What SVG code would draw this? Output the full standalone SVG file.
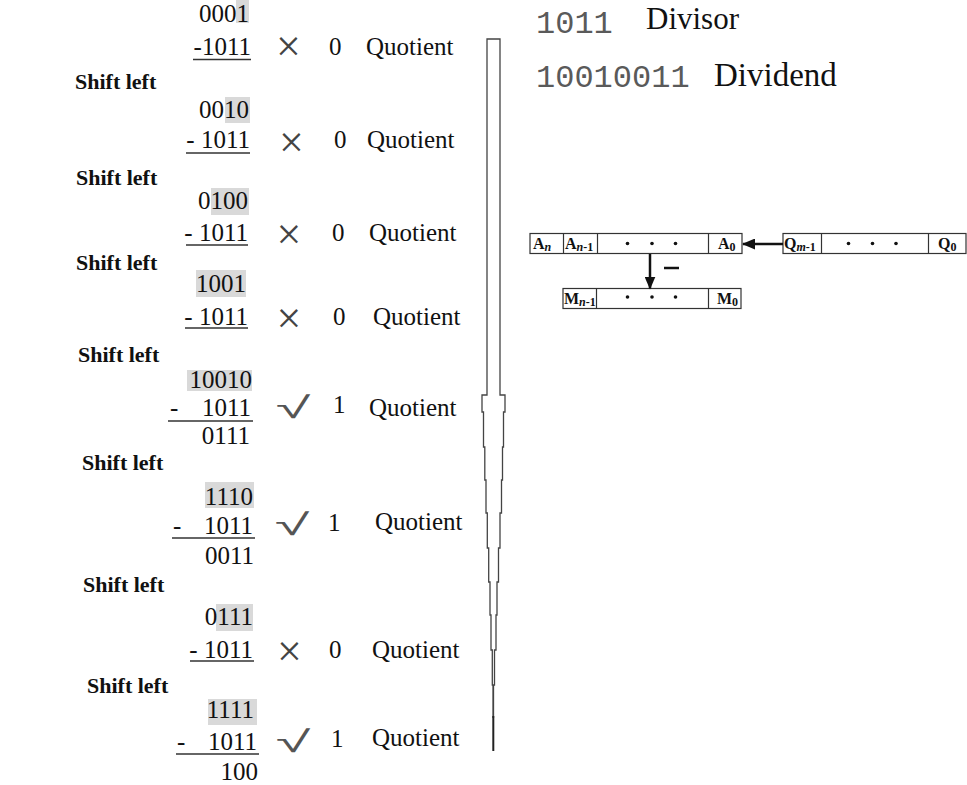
<svg xmlns="http://www.w3.org/2000/svg" width="967" height="785" viewBox="0 0 967 785">
<defs>
<style>
.num{font-family:"Liberation Serif","Times New Roman",serif;font-size:25px;fill:#111;text-anchor:end}
.numl{font-family:"Liberation Serif","Times New Roman",serif;font-size:25px;fill:#111}
.q{font-family:"Liberation Serif","Times New Roman",serif;font-size:25px;fill:#111}
.sh{font-family:"Liberation Serif","Times New Roman",serif;font-size:22px;font-weight:bold;fill:#111}
.x{font-family:"Liberation Serif","Times New Roman",serif;font-size:44px;fill:#444;text-anchor:middle}
.ck{font-family:"DejaVu Sans",sans-serif;font-size:30px;fill:#555;text-anchor:middle;font-weight:200}
.hl{fill:#d9d9d9}
.ul{stroke:#333;stroke-width:1.6}
.mono{font-family:"Liberation Mono","Courier New",monospace;font-size:32px;fill:#5a5a5a}
.lab{font-family:"Liberation Serif","Times New Roman",serif;fill:#111}
.box{fill:#fff;stroke:#333;stroke-width:1.2}
.reg{font-family:"Liberation Serif","Times New Roman",serif;font-size:16px;font-weight:bold;fill:#111}
.sub{font-size:12px;font-style:italic}
.sub0{font-size:12px}
.dot{fill:#111}
.shaft{fill:none;stroke:#444;stroke-width:1.3}
</style>
<marker id="ah" markerWidth="13" markerHeight="11" refX="12" refY="5.5" orient="auto" markerUnits="userSpaceOnUse" viewBox="0 0 13 11">
<path d="M0,0 L13,5.5 L0,11 z" fill="#111"/>
</marker>
</defs>
<rect width="967" height="785" fill="#fff"/>

<g id="step1">
<rect class="hl" x="236" y="0" width="13" height="23"/>
<text class="num" x="249" y="22">0001</text>
<text class="num" x="251" y="55">-1011</text>
<line class="ul" x1="193" y1="59.5" x2="251" y2="59.5"/>
<text class="x" x="288.5" y="61">×</text>
<text class="q" x="329" y="55">0</text>
<text class="q" x="366" y="55">Quotient</text>
</g>
<text class="sh" x="75" y="89">Shift left</text>

<g id="step2">
<rect class="hl" x="225" y="97" width="25" height="26"/>
<text class="num" x="249" y="118">0010</text>
<text class="num" x="250" y="148">- 1011</text>
<line class="ul" x1="186" y1="153" x2="250" y2="153"/>
<text class="x" x="291.5" y="157">×</text>
<text class="q" x="334" y="148">0</text>
<text class="q" x="367" y="148">Quotient</text>
</g>
<text class="sh" x="76" y="185">Shift left</text>

<g id="step3">
<rect class="hl" x="211" y="188" width="38" height="27"/>
<text class="num" x="248" y="209">0100</text>
<text class="num" x="248" y="241">- 1011</text>
<line class="ul" x1="186" y1="245" x2="248" y2="245"/>
<text class="x" x="289" y="248.5">×</text>
<text class="q" x="332" y="241">0</text>
<text class="q" x="369" y="241">Quotient</text>
</g>
<text class="sh" x="76" y="270">Shift left</text>

<g id="step4">
<rect class="hl" x="196" y="270" width="50" height="27"/>
<text class="num" x="246" y="292">1001</text>
<text class="num" x="248" y="325">- 1011</text>
<line class="ul" x1="185" y1="328" x2="248" y2="328"/>
<text class="x" x="289" y="332.5">×</text>
<text class="q" x="333" y="325">0</text>
<text class="q" x="373" y="325">Quotient</text>
</g>
<text class="sh" x="78" y="362">Shift left</text>

<g id="step5">
<rect class="hl" x="187" y="370" width="65" height="21"/>
<text class="num" x="252" y="388">10010</text>
<text class="numl" x="170" y="416">-</text>
<text class="num" x="251" y="416">1011</text>
<line class="ul" x1="168" y1="421" x2="253" y2="421"/>
<text class="num" x="250" y="444">0111</text>
<text class="ck" transform="translate(293,418) scale(2.1,1)">√</text>
<text class="q" x="333" y="413">1</text>
<text class="q" x="369" y="416">Quotient</text>
</g>
<text class="sh" x="82" y="470">Shift left</text>

<g id="step6">
<rect class="hl" x="205" y="482" width="49" height="26"/>
<text class="num" x="253" y="505">1110</text>
<text class="numl" x="173" y="534">-</text>
<text class="num" x="253" y="534">1011</text>
<line class="ul" x1="172" y1="538" x2="255" y2="538"/>
<text class="num" x="254" y="564">0011</text>
<text class="ck" transform="translate(292,535) scale(2.1,1)">√</text>
<text class="q" x="328" y="531">1</text>
<text class="q" x="375" y="530">Quotient</text>
</g>
<text class="sh" x="83" y="592">Shift left</text>

<g id="step7">
<rect class="hl" x="216" y="604" width="37" height="27"/>
<text class="num" x="253" y="625">0111</text>
<text class="num" x="253" y="658">- 1011</text>
<line class="ul" x1="190" y1="661" x2="254" y2="661"/>
<text class="x" x="289.5" y="666">×</text>
<text class="q" x="329" y="658">0</text>
<text class="q" x="372" y="658">Quotient</text>
</g>
<text class="sh" x="87" y="693">Shift left</text>

<g id="step8">
<rect class="hl" x="208" y="699" width="49" height="26"/>
<text class="num" x="254" y="718">1111</text>
<text class="numl" x="177" y="750">-</text>
<text class="num" x="257" y="750">1011</text>
<line class="ul" x1="176" y1="754" x2="259" y2="754"/>
<text class="num" x="258" y="780">100</text>
<text class="ck" transform="translate(293,752) scale(2.1,1)">√</text>
<text class="q" x="331" y="747">1</text>
<text class="q" x="372" y="746">Quotient</text>
</g>

<g id="shaft">
<path class="shaft" d="M493,718 L493,685 L492.3,685 L492.3,650 L491,650 L491,615 L490,615 L490,582 L488.7,582 L488.7,548 L487.3,548 L487.3,513 L486,513 L486,480 L484.8,480 L484.8,447 L483.5,447 L483.5,412 L482,412 L482,395 L487,395 L487,39 L500,39 L500,395 L505,395 L505,412 L503.5,412 L503.5,447 L502.5,447 L502.5,480 L501.5,480 L501.5,513 L500,513 L500,548 L498.5,548 L498.5,582 L497,582 L497,615 L496,615 L496,650 L494.5,650 L494.5,685 L493.5,685 L493.5,718"/>
<line x1="493.3" y1="716" x2="493.3" y2="751" stroke="#222" stroke-width="2"/>
</g>

<g id="legend">
<text class="mono" x="536" y="33">1011</text>
<text class="lab" x="646" y="29" style="font-size:31px">Divisor</text>
<text class="mono" x="536" y="87">10010011</text>
<text class="lab" x="714" y="86" style="font-size:33px">Dividend</text>
</g>

<g id="regA">
<rect class="box" x="530" y="233.5" width="212" height="20"/>
<line class="box" x1="563.5" y1="233.5" x2="563.5" y2="253.5"/>
<line class="box" x1="597.5" y1="233.5" x2="597.5" y2="253.5"/>
<line class="box" x1="708.5" y1="233.5" x2="708.5" y2="253.5"/>
<text class="reg" x="533" y="249">A<tspan class="sub" dy="2">n</tspan></text>
<text class="reg" x="565" y="249">A<tspan class="sub" dy="2">n</tspan><tspan class="sub0">-1</tspan></text>
<circle class="dot" cx="627.5" cy="243.5" r="1.8"/>
<circle class="dot" cx="652" cy="243.5" r="1.8"/>
<circle class="dot" cx="675.5" cy="243.5" r="1.8"/>
<text class="reg" x="718" y="249">A<tspan class="sub0" dy="2">0</tspan></text>
</g>

<g id="regQ">
<rect class="box" x="783" y="233.5" width="183" height="20"/>
<line class="box" x1="821.5" y1="233.5" x2="821.5" y2="253.5"/>
<line class="box" x1="928.5" y1="233.5" x2="928.5" y2="253.5"/>
<text class="reg" x="784" y="249">Q<tspan class="sub" dy="2">m</tspan><tspan class="sub0">-1</tspan></text>
<circle class="dot" cx="848.5" cy="243.5" r="1.8"/>
<circle class="dot" cx="872.5" cy="243.5" r="1.8"/>
<circle class="dot" cx="896" cy="243.5" r="1.8"/>
<text class="reg" x="938" y="249">Q<tspan class="sub0" dy="2">0</tspan></text>
</g>

<g id="regM">
<rect class="box" x="563" y="288.5" width="178" height="20"/>
<line class="box" x1="596.5" y1="288.5" x2="596.5" y2="308.5"/>
<line class="box" x1="708.5" y1="288.5" x2="708.5" y2="308.5"/>
<text class="reg" x="564" y="304">M<tspan class="sub" dy="2">n</tspan><tspan class="sub0">-1</tspan></text>
<circle class="dot" cx="627.5" cy="297" r="1.8"/>
<circle class="dot" cx="652" cy="297" r="1.8"/>
<circle class="dot" cx="675.5" cy="297" r="1.8"/>
<text class="reg" x="717" y="304">M<tspan class="sub0" dy="2">0</tspan></text>
</g>

<g id="connectors">
<line x1="783" y1="244" x2="743" y2="244" stroke="#111" stroke-width="2.5" marker-end="url(#ah)"/>
<line x1="650" y1="254" x2="650" y2="288.5" stroke="#111" stroke-width="2.5" marker-end="url(#ah)"/>
<line x1="664" y1="268" x2="679" y2="268" stroke="#111" stroke-width="2.5"/>
</g>
</svg>
